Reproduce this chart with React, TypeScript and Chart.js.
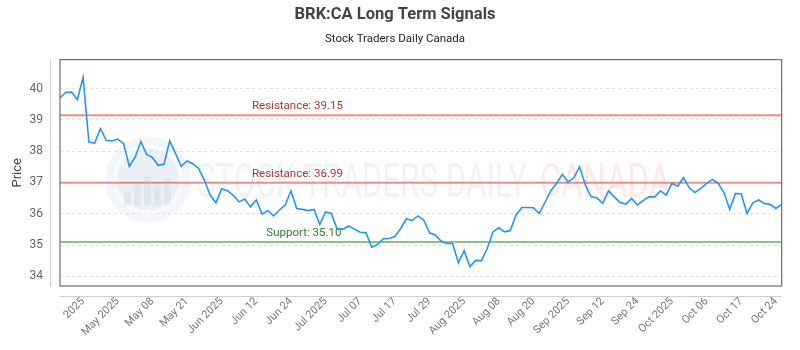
import React, { useEffect, useRef } from "react";
import { Chart, registerables } from "chart.js";

Chart.register(...registerables);

const TITLE = "BRK:CA Long Term Signals";
const SUBTITLE = "Stock Traders Daily Canada";
const Y_TITLE = "Price";

const TICK_LABELS = [
  "2025", "May 2025", "May 08", "May 21", "Jun 2025", "Jun 12", "Jun 24",
  "Jul 2025", "Jul 07", "Jul 17", "Jul 29", "Aug 2025", "Aug 08", "Aug 20",
  "Sep 2025", "Sep 12", "Sep 24", "Oct 2025", "Oct 06", "Oct 17", "Oct 24",
];
const FIRST_TICK_INDEX = 4;
const TICK_EVERY = 6;

const PRICES = [
  39.71, 39.88, 39.89, 39.65, 40.36, 38.29, 38.26, 38.72, 38.35, 38.33,
  38.39, 38.25, 37.52, 37.80, 38.31, 37.90, 37.80, 37.55, 37.58, 38.33,
  37.93, 37.52, 37.69, 37.60, 37.45, 37.08, 36.60, 36.35, 36.80, 36.74,
  36.59, 36.38, 36.47, 36.22, 36.44, 35.99, 36.10, 35.93, 36.12, 36.28,
  36.73, 36.17, 36.14, 36.10, 36.14, 35.66, 36.06, 36.01, 35.51, 35.51,
  35.61, 35.51, 35.41, 35.39, 34.93, 35.02, 35.20, 35.21, 35.27, 35.53,
  35.84, 35.78, 35.93, 35.80, 35.39, 35.32, 35.13, 35.05, 35.05, 34.43,
  34.82, 34.31, 34.51, 34.50, 34.89, 35.42, 35.55, 35.42, 35.46, 35.96,
  36.20, 36.20, 36.19, 36.01, 36.36, 36.73, 36.97, 37.26, 37.02, 37.15,
  37.50, 36.92, 36.54, 36.51, 36.33, 36.73, 36.54, 36.36, 36.31, 36.49,
  36.28, 36.42, 36.54, 36.54, 36.73, 36.60, 36.97, 36.88, 37.16, 36.83,
  36.68, 36.81, 36.97, 37.10, 36.97, 36.68, 36.14, 36.65, 36.63, 36.01,
  36.35, 36.44, 36.33, 36.30, 36.17, 36.30,
];

const Y_TICKS = [34, 35, 36, 37, 38, 39, 40];
const Y_MIN = 33.69;
const Y_MAX = 40.93;

const LEVELS = [
  { label: "Resistance: 39.15", value: 39.15, line: "rgba(238,120,120,0.85)", text: "#b0342c", at: 0.329 },
  { label: "Resistance: 36.99", value: 36.99, line: "rgba(238,120,120,0.85)", text: "#b0342c", at: 0.329 },
  { label: "Support: 35.10", value: 35.1, line: "rgba(120,185,120,0.85)", text: "#2e7d32", at: 0.338 },
];

const FONT = "Roboto, 'Open Sans', sans-serif";

const watermarkPlugin = {
  id: "watermark",
  beforeDatasetsDraw(chart: any) {
    const { ctx, chartArea } = chart;
    const cy = chartArea.top + (chartArea.bottom - chartArea.top) * 0.53;
    ctx.save();
    // logo
    const lx = chartArea.left + 88;
    ctx.globalAlpha = 0.07;
    ctx.fillStyle = "#5a78b8";
    ctx.beginPath();
    ctx.arc(lx, cy, 43, 0, Math.PI * 2);
    ctx.fill();
    ctx.globalAlpha = 0.5;
    ctx.fillStyle = "#ffffff";
    ctx.beginPath();
    ctx.arc(lx, cy, 35, 0, Math.PI * 2);
    ctx.fill();
    ctx.globalAlpha = 0.08;
    ctx.fillStyle = "#5a78b8";
    ctx.beginPath();
    ctx.arc(lx, cy, 31, 0, Math.PI * 2);
    ctx.fill();
    ctx.globalAlpha = 0.09;
    const bars = [14, 22, 30, 20, 26];
    bars.forEach((h, i) => {
      ctx.fillRect(lx - 24 + i * 10, cy + 26 - h, 7, h);
    });
    // text
    ctx.globalAlpha = 1;
    ctx.textBaseline = "alphabetic";
    ctx.textAlign = "left";
    ctx.font = `400 48px ${FONT}`;
    const t1 = "STOCK TRADERS DAILY";
    const w1 = ctx.measureText(t1).width;
    ctx.save();
    ctx.translate(chartArea.left + 137, cy + 17);
    ctx.scale(330 / w1, 1);
    ctx.fillStyle = "rgba(150,165,205,0.15)";
    ctx.fillText(t1, 0, 0);
    ctx.restore();
    const t2 = "CANADA";
    const w2 = ctx.measureText(t2).width;
    ctx.save();
    ctx.translate(chartArea.left + 480, cy + 17);
    ctx.scale(130 / w2, 1);
    ctx.fillStyle = "rgba(240,120,120,0.16)";
    ctx.fillText(t2, 0, 0);
    ctx.restore();
    ctx.restore();
  },
};

const levelsPlugin = {
  id: "levels",
  beforeDatasetsDraw(chart: any) {
    const { ctx, chartArea, scales } = chart;
    const w = chartArea.right - chartArea.left;
    ctx.save();
    LEVELS.forEach((l) => {
      const y = scales.y.getPixelForValue(l.value);
      ctx.strokeStyle = l.line;
      ctx.lineWidth = 2;
      ctx.beginPath();
      ctx.moveTo(chartArea.left, y);
      ctx.lineTo(chartArea.right, y);
      ctx.stroke();
      ctx.fillStyle = l.text;
      ctx.font = `11.5px ${FONT}`;
      ctx.textAlign = "center";
      ctx.textBaseline = "bottom";
      ctx.fillText(l.label, chartArea.left + w * l.at, y - 3);
    });
    ctx.restore();
  },
};

const framePlugin = {
  id: "frame",
  afterDraw(chart: any) {
    const { ctx, chartArea } = chart;
    ctx.save();
    ctx.strokeStyle = "#cfcfcf";
    ctx.lineWidth = 1;
    ctx.beginPath();
    ctx.moveTo(chartArea.left - 9.5, chartArea.top);
    ctx.lineTo(chartArea.left - 9.5, chartArea.bottom + 1);
    ctx.moveTo(chartArea.left, chartArea.bottom + 10.5);
    ctx.lineTo(chartArea.right, chartArea.bottom + 10.5);
    ctx.stroke();
    ctx.strokeStyle = "#6e6e6e";
    ctx.lineWidth = 1.2;
    ctx.strokeRect(chartArea.left, chartArea.top, chartArea.right - chartArea.left, chartArea.bottom - chartArea.top);
    ctx.restore();
  },
};

export default function App() {
  const ref = useRef<HTMLCanvasElement | null>(null);

  useEffect(() => {
    document.body.style.margin = "0";
    if (!ref.current) return;
    const labels = PRICES.map((_, i) => {
      const k = i - FIRST_TICK_INDEX;
      return k >= 0 && k % TICK_EVERY === 0 ? TICK_LABELS[k / TICK_EVERY] ?? "" : "";
    });
    const chart = new Chart(ref.current, {
      type: "line",
      data: {
        labels,
        datasets: [
          {
            data: PRICES,
            borderColor: "#2196f3",
            borderWidth: 1.6,
            pointRadius: 0,
            tension: 0,
            fill: false,
          },
        ],
      },
      options: {
        animation: false,
        responsive: false,
        layout: { padding: { left: 0, right: 10, top: 0, bottom: 0 } },
        plugins: {
          legend: { display: false },
          tooltip: { enabled: false },
          title: {
            display: true,
            text: TITLE,
            color: "#444",
            font: { family: FONT, size: 16.5, weight: "bold" },
            padding: { top: 5, bottom: 4 },
          },
          subtitle: {
            display: true,
            text: SUBTITLE,
            color: "#222",
            font: { family: FONT, size: 11.5 },
            padding: { top: 3, bottom: 14 },
          },
        },
        scales: {
          x: {
            type: "category",
            grid: { display: false, drawTicks: false },
            border: { display: false },
            ticks: {
              autoSkip: false,
              maxRotation: 45,
              minRotation: 45,
              color: "#777",
              font: { family: FONT, size: 11 },
              padding: 9,
            },
            afterFit: (s: any) => {
              s.height = 64;
            },
          },
          y: {
            min: Y_MIN,
            max: Y_MAX,
            afterBuildTicks: (s: any) => {
              s.ticks = Y_TICKS.map((v) => ({ value: v }));
            },
            afterFit: (s: any) => {
              s.width = 60;
            },
            grid: { color: "#e2e2e2", drawTicks: false },
            border: { display: false, dash: [3, 3] },
            ticks: {
              color: "#666",
              font: { family: FONT, size: 12 },
              padding: 17,
            },
            title: {
              display: true,
              text: Y_TITLE,
              color: "#444",
              font: { family: FONT, size: 13 },
              padding: { top: 10, bottom: 0 },
            },
          },
        },
      },
      plugins: [watermarkPlugin, levelsPlugin, framePlugin],
    });
    return () => chart.destroy();
  }, []);

  return (
    <div style={{ width: 800, height: 350 }}>
      <canvas ref={ref} width={800} height={350} style={{ display: "block" }} />
    </div>
  );
}
